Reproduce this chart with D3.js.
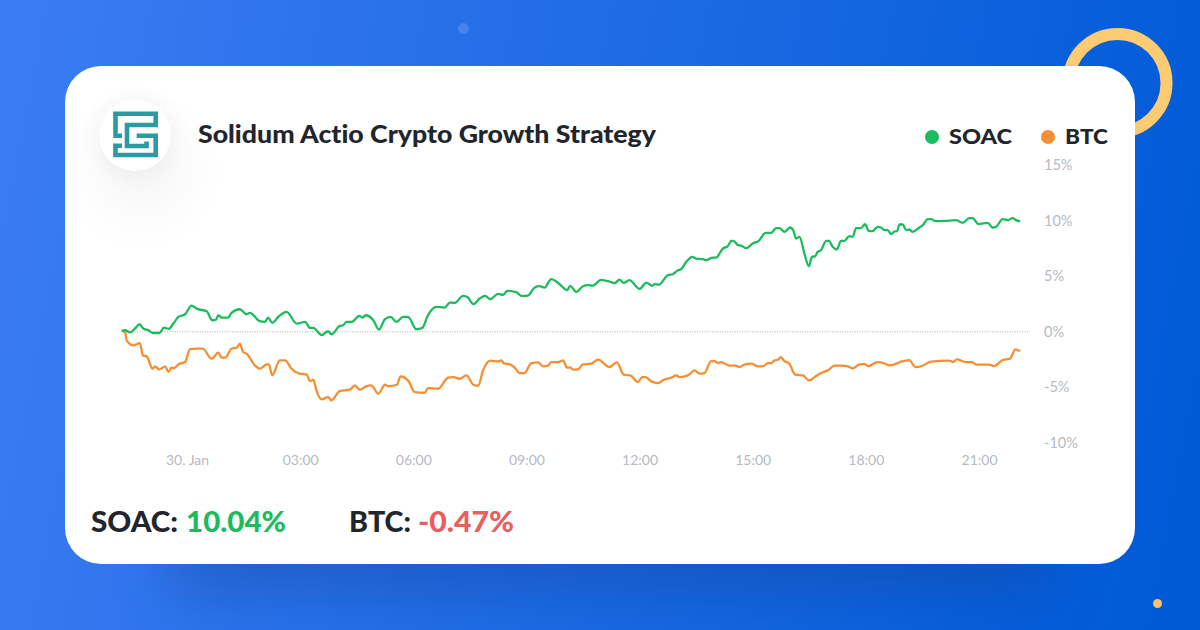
<!DOCTYPE html>
<html><head><meta charset="utf-8">
<script src="https://cdn.jsdelivr.net/npm/d3@7/dist/d3.min.js"></script>
<style>html,body{margin:0;padding:0;overflow:hidden;background:#1a66e0}svg{display:block}text{font-family:Lato,"Open Sans",sans-serif;font-variant-ligatures:none}</style>
</head><body><svg id="c" width="1200" height="630"></svg>
<script>
const title="Solidum Actio Crypto Growth Strategy";
const seriesNames=["SOAC","BTC"];
const seriesColors=["#1dbb5e","#f58f32"];
const totals=["10.04%","-0.47%"];
const totalColors=["#1dbb5e","#e85f5f"];
const tickHours=[0,3,6,9,12,15,18,21];
const tickLabels=["30. Jan","03:00","06:00","09:00","12:00","15:00","18:00","21:00"];
const yTicks=[-10,-5,0,5,10,15];
const soacHours=[-1.73,-1.64,-1.51,-1.38,-1.26,-1.16,-1.02,-0.91,-0.73,-0.61,-0.49,-0.36,-0.23,-0.05,0.12,0.27,0.52,0.67,0.77,0.83,0.92,1.09,1.18,1.40,1.58,1.67,1.93,2.07,2.15,2.26,2.42,2.64,2.91,3.13,3.26,3.35,3.57,3.74,3.83,4.05,4.14,4.23,4.36,4.57,4.65,4.74,4.94,5.09,5.25,5.40,5.55,5.73,5.86,6.08,6.24,6.39,6.61,6.83,6.97,7.10,7.32,7.45,7.59,7.76,7.91,8.04,8.25,8.38,8.49,8.73,8.87,9.04,9.22,9.35,9.48,9.66,9.88,10.08,10.16,10.32,10.50,10.63,10.76,10.98,11.25,11.34,11.47,11.58,11.73,12.00,12.18,12.33,12.40,12.51,12.75,12.88,13.02,13.10,13.24,13.40,13.50,13.68,13.78,13.90,14.03,14.21,14.34,14.43,14.49,14.61,14.69,14.83,15.00,15.16,15.34,15.49,15.62,15.71,15.84,15.99,16.08,16.15,16.24,16.37,16.49,16.57,16.66,16.72,16.81,16.95,17.02,17.12,17.23,17.34,17.43,17.56,17.65,17.74,17.87,17.98,18.07,18.18,18.31,18.40,18.49,18.58,18.67,18.76,18.83,18.89,18.98,19.07,19.15,19.24,19.42,19.51,19.64,19.73,19.82,19.95,20.12,20.39,20.57,20.74,20.83,20.99,21.23,21.36,21.45,21.63,21.76,21.89,21.98,22.09];
const soacValues=[0.08,0.14,-0.05,0.29,0.68,0.29,0.14,-0.11,-0.11,0.38,0.26,0.74,1.34,1.58,2.36,2.06,1.85,1.04,1.10,1.49,1.28,1.28,1.70,2.03,1.58,1.70,0.95,0.89,1.28,0.80,1.34,1.79,0.74,0.89,0.35,0.35,-0.29,0.05,-0.23,0.53,0.59,0.89,0.89,1.43,1.28,1.49,1.04,0.20,1.13,1.34,0.89,1.34,1.34,0.23,0.35,1.49,2.24,2.18,2.63,2.60,3.23,3.08,2.48,2.99,3.23,2.93,3.41,3.32,3.68,3.56,3.23,3.26,3.98,4.10,3.98,4.73,4.28,3.74,4.13,3.59,4.10,4.19,4.16,4.67,4.46,4.37,4.70,4.40,4.64,3.86,4.43,4.13,4.28,4.25,5.09,5.18,5.54,5.63,6.29,6.74,6.59,6.53,6.44,6.65,6.68,7.49,7.70,8.18,8.18,7.79,7.76,7.52,7.94,8.18,8.90,8.90,9.32,9.32,8.99,9.38,9.08,8.39,8.54,7.04,5.90,6.74,6.80,7.19,7.34,8.18,8.18,7.64,7.40,8.18,8.18,8.60,8.54,9.32,9.32,9.68,9.08,9.05,9.44,9.38,9.14,9.14,8.78,9.02,9.05,9.65,9.65,9.14,9.20,8.99,9.38,9.59,10.14,10.14,9.98,9.95,9.98,10.04,9.80,10.23,10.23,9.68,9.80,9.38,9.44,10.14,10.04,10.23,10.04,9.92];
const btcHours=[-1.73,-1.64,-1.60,-1.42,-1.25,-1.17,-1.07,-0.91,-0.85,-0.73,-0.58,-0.49,-0.41,-0.34,-0.23,-0.05,0.08,0.27,0.42,0.65,0.83,0.92,1.01,1.18,1.32,1.40,1.49,1.58,1.80,1.93,2.11,2.17,2.26,2.46,2.60,2.77,2.99,3.17,3.26,3.35,3.43,3.57,3.74,3.83,4.05,4.32,4.45,4.58,4.76,4.89,5.07,5.25,5.33,5.57,5.66,5.86,6.04,6.30,6.39,6.66,6.92,7.06,7.23,7.41,7.59,7.72,7.85,8.04,8.25,8.34,8.40,8.56,8.69,8.82,8.95,9.13,9.31,9.44,9.57,9.66,9.84,9.97,10.08,10.15,10.25,10.37,10.50,10.72,10.90,11.20,11.40,11.58,11.75,11.96,12.07,12.16,12.31,12.49,12.66,12.84,12.97,13.06,13.28,13.46,13.59,13.72,13.90,13.99,14.08,14.16,14.39,14.52,14.65,14.78,14.98,15.13,15.27,15.40,15.49,15.58,15.67,15.74,15.84,15.97,16.13,16.33,16.49,16.68,16.81,16.99,17.17,17.34,17.52,17.65,17.83,17.96,18.07,18.31,18.49,18.62,18.76,18.93,19.15,19.31,19.46,19.73,20.21,20.32,20.41,20.65,20.81,20.94,21.27,21.40,21.63,21.82,21.97,22.09];
const btcValues=[0.08,-0.02,-0.77,-1.22,-1.01,-2.12,-2.21,-3.32,-3.11,-3.38,-3.11,-3.62,-3.23,-3.26,-2.93,-2.72,-1.55,-1.52,-1.52,-2.42,-1.88,-2.33,-2.33,-1.52,-1.43,-1.07,-1.82,-1.97,-3.02,-3.32,-2.93,-2.93,-3.92,-2.57,-2.57,-3.32,-3.77,-3.83,-4.43,-4.31,-5.27,-6.08,-5.87,-6.17,-5.33,-5.21,-4.82,-5.21,-4.88,-4.82,-5.57,-4.76,-4.88,-4.76,-4.01,-4.37,-5.42,-5.48,-5.06,-5.12,-4.13,-4.07,-4.22,-3.92,-4.76,-4.85,-3.47,-2.60,-2.66,-2.57,-2.84,-2.93,-3.23,-3.71,-3.71,-2.81,-2.75,-3.11,-3.05,-2.72,-2.72,-2.57,-3.23,-3.20,-3.41,-3.38,-2.93,-2.87,-2.51,-3.17,-2.75,-3.86,-3.92,-4.52,-4.07,-4.07,-4.46,-4.61,-4.28,-4.13,-3.92,-4.07,-3.92,-3.47,-3.77,-3.71,-2.63,-2.63,-2.81,-2.72,-3.05,-3.02,-3.17,-2.96,-2.87,-3.11,-3.11,-2.81,-2.81,-2.57,-2.51,-2.27,-2.63,-2.87,-3.86,-3.92,-4.37,-3.98,-3.71,-3.47,-3.05,-3.05,-3.11,-3.29,-2.93,-2.90,-3.08,-2.72,-2.84,-3.02,-2.93,-2.69,-2.54,-3.17,-3.11,-2.69,-2.60,-2.72,-2.48,-2.72,-2.72,-2.96,-2.96,-3.08,-2.54,-2.42,-1.58,-1.76];

const svg=d3.select("#c");
const defs=svg.append("defs");
const bg=defs.append("linearGradient").attr("id","bg").attr("gradientUnits","userSpaceOnUse")
  .attr("x1",0).attr("y1",200).attr("x2",1200).attr("y2",430);
bg.append("stop").attr("offset",0).attr("stop-color","#3a7bf2");
bg.append("stop").attr("offset",1).attr("stop-color","#005ad6");
const blur=(id,s)=>defs.append("filter").attr("id",id).attr("x","-50%").attr("y","-50%").attr("width","200%").attr("height","200%")
  .append("feGaussianBlur").attr("stdDeviation",s);
blur("b30",28);blur("b12",12);
svg.append("rect").attr("width",1200).attr("height",630).attr("fill","url(#bg)");
svg.append("rect").attr("x",170).attr("y",510).attr("width",880).attr("height",85).attr("fill","#0a3f96").attr("opacity",.36).attr("filter","url(#b30)");
svg.append("circle").attr("cx",463.5).attr("cy",28.5).attr("r",5.5).attr("fill","#5a8ff0").attr("opacity",.6);
svg.append("circle").attr("cx",1157.5).attr("cy",603.5).attr("r",4.5).attr("fill","#fcc468");
svg.append("circle").attr("cx",1117.5).attr("cy",83).attr("r",49).attr("fill","none").attr("stroke","#fdcb71").attr("stroke-width",12);
svg.append("rect").attr("x",65).attr("y",66).attr("width",1070).attr("height",498).attr("rx",36).attr("fill","#fff");

// logo badge
svg.append("circle").attr("cx",142).attr("cy",170).attr("r",48).attr("fill","#000").attr("opacity",.035).attr("filter","url(#b30)");
svg.append("circle").attr("cx",135).attr("cy",138).attr("r",37).attr("fill","#000").attr("opacity",.05).attr("filter","url(#b12)");
svg.append("circle").attr("cx",135).attr("cy",135).attr("r",36).attr("fill","#fff");
const logoPaths=[
  "M122 135.7H115.5V113.7H155.7V125H127V146H146.5V141.5",
  "M136.7 135.7H155.7V155H115.5V145.7H122"
];
logoPaths.forEach(d=>svg.append("path").attr("d",d).attr("fill","none").attr("stroke","#2b9aa3").attr("stroke-width",4.6));

// scales
const x=d3.scaleLinear().domain([0,21]).range([187,979]);
const y=d3.scaleLinear().domain([-10,15]).range([443,165]);

// zero line
svg.append("line").attr("x1",x(-1.72)).attr("x2",1029).attr("y1",y(0)).attr("y2",y(0))
  .attr("stroke","#a9a9a9").attr("stroke-width",1).attr("stroke-dasharray","1 1.5");

// axes
const xAxis=svg.append("g").attr("transform","translate(0,465)").call(d3.axisBottom(x).tickValues(tickHours).tickSize(0).tickPadding(0).tickFormat((d,i)=>tickLabels[i]));
xAxis.select(".domain").remove();
xAxis.selectAll("text").attr("fill","#b6bac2").style("font-size","14px").style("font-family","Lato,sans-serif").attr("dy","0").attr("y",0);
const yAxis=svg.append("g").attr("transform","translate(1044,0)").call(d3.axisRight(y).tickValues(yTicks).tickSize(0).tickPadding(0).tickFormat(d=>d+"%"));
yAxis.select(".domain").remove();
yAxis.selectAll("text").attr("fill","#b6bac2").style("font-size","14.5px").style("font-family","Lato,sans-serif").attr("dy","0").attr("y",4.5);

// lines
const line=d3.line().curve(d3.curveMonotoneX);
const seriesH=[soacHours,btcHours],seriesV=[soacValues,btcValues];
[1,0].forEach(i=>{
  const pts=seriesH[i].map((h,k)=>[x(h),y(seriesV[i][k])]);
  svg.append("path").attr("d",line(pts)).attr("fill","none").attr("stroke",seriesColors[i]).attr("stroke-width",2.3).attr("stroke-linejoin","round");
});

const boldText=(tx,ty,s,fill,size,w)=>svg.append("text").attr("x",tx).attr("y",ty).text(s).attr("fill",fill)
  .style("font-size",size+"px").style("font-weight",900).attr("textLength",w).attr("lengthAdjust","spacingAndGlyphs");

// title
boldText(198,143,title,"#22252b",25,458);

// legend
const legX=[932,1048],legT=[949,1065],legW=[63,43];
seriesNames.forEach((n,i)=>{
  svg.append("circle").attr("cx",legX[i]).attr("cy",137).attr("r",7).attr("fill",seriesColors[i]);
  boldText(legT[i],144,n,"#22252b",21,legW[i]);
});

// totals
const tLab=[91,349],tLabW=[87,62],tVal=[186,418],tValW=[100,96];
seriesNames.forEach((n,i)=>{
  boldText(tLab[i],532,n+":","#22252b",28,tLabW[i]);
  boldText(tVal[i],532,totals[i],totalColors[i],28,tValW[i]);
});
</script></body></html>
